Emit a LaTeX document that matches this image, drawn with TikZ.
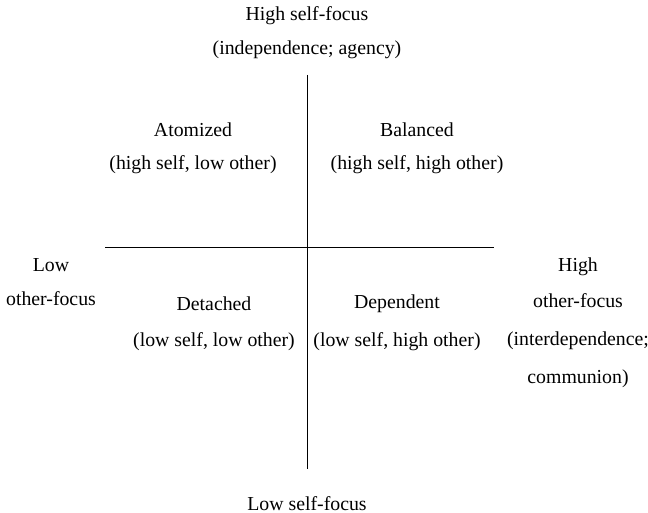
\documentclass[tikz,border=0pt]{standalone}
\usepackage{fontspec}
\setmainfont{Liberation Serif}
\begin{document}
\begin{tikzpicture}[x=0.5pt,y=-0.5pt,
  lbl/.style={inner sep=0pt,font=\fontsize{9.9}{12}\selectfont},
  axis/.style={line width=0.5pt,black}]
\useasboundingbox (0,0) rectangle (648,513);
\coordinate (vt) at (307,75);
\coordinate (vb) at (307,469);
\coordinate (hl) at (105,248);
\coordinate (hr) at (494,248);
\draw[axis] (vt) -- (vb);
\draw[axis] (hl) -- (hr);
\node[lbl] (top1) at (307,16) {High self-focus};
\node[lbl] (top2) at (307,50) {(independence; agency)};
\node[lbl] (at1) at (193,130) {Atomized};
\node[lbl] (at2) at (193,165) {(high self, low other)};
\node[lbl] (ba1) at (417,130) {Balanced};
\node[lbl] (ba2) at (417,165) {(high self, high other)};
\node[lbl] (lo1) at (51,265) {Low};
\node[lbl] (lo2) at (51,299) {other-focus};
\node[lbl] (de1) at (214,304) {Detached};
\node[lbl] (de2) at (214,342) {(low self, low other)};
\node[lbl] (dp1) at (397,304) {Dependent};
\node[lbl] (dp2) at (397,342) {(low self, high other)};
\node[lbl] (hi1) at (578,267) {High};
\node[lbl] (hi2) at (578,301) {other-focus};
\node[lbl] (hi3) at (578,341) {(interdependence;};
\node[lbl] (hi4) at (578,379) {communion)};
\node[lbl] (bot) at (307,504) {Low self-focus};
\end{tikzpicture}
\end{document}
